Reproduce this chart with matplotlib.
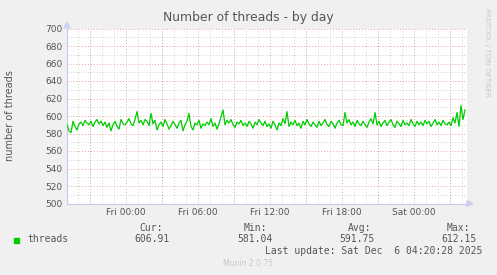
import pandas as pd
import numpy as np
import matplotlib
matplotlib.use("Agg")
import matplotlib.pyplot as plt
import matplotlib.dates as mdates

threads = [
    590, 583, 581, 594, 588, 584, 591, 593, 589, 595, 592, 590, 594, 588, 593, 596, 591, 594, 589, 593,
    587, 592, 583, 590, 594, 588, 585, 596, 591, 590, 593, 597, 591, 589, 596, 605, 592, 595, 590, 596,
    594, 589, 603, 591, 595, 584, 590, 593, 588, 596, 591, 585, 589, 594, 590, 586, 592, 595, 583, 590,
    594, 603, 588, 584, 592, 590, 595, 586, 591, 589, 593, 590, 597, 588, 592, 585, 591, 599, 607, 590,
    595, 592, 596, 590, 587, 593, 591, 595, 589, 592, 588, 594, 591, 586, 593, 590, 596, 592, 589, 594,
    588, 591, 586, 594, 590, 584, 592, 589, 597, 591, 605, 588, 593, 590, 595, 589, 592, 586, 594, 590,
    596, 591, 588, 593, 590, 587, 594, 589, 592, 596, 590, 588, 594, 591, 586, 592, 595, 590, 589, 604,
    592, 596, 590, 593, 588, 595, 591, 589, 594, 590, 587, 593, 597, 591, 604, 590, 594, 588, 592, 595,
    589, 593, 596, 590, 587, 594, 591, 588, 595, 590, 592, 589, 596, 591, 588, 594, 590, 593, 589, 595,
    591, 594, 588, 592, 596, 590, 593, 589, 595, 591, 590, 593, 589, 598, 592, 604, 588, 612, 596, 607,
]
times = pd.date_range("2025-12-04 19:05", periods=len(threads), freq="10min")

stat_names = ["Cur:", "Min:", "Avg:", "Max:"]
stat_values = ["606.91", "581.04", "591.75", "612.15"]
last_update = "Last update: Sat Dec  6 04:20:28 2025"

bg = "#F0F0F0"
txt = "#555555"

fig = plt.figure(figsize=(4.97, 2.75), dpi=100, facecolor=bg)
W, H = 497, 275
ax = fig.add_axes([67 / W, 1 - 203.5 / H, 400 / W, 175 / H], facecolor="white")

ax.plot(times, threads, color="#00CC00", lw=0.9, zorder=3)

ax.set_xlim(pd.Timestamp("2025-12-04 19:05"), pd.Timestamp("2025-12-06 04:25"))
ax.set_ylim(500, 700)

ax.set_yticks(np.arange(500, 701, 20))
ax.set_yticks(np.arange(500, 701, 10), minor=True)
ax.xaxis.set_major_locator(mdates.HourLocator(byhour=[0, 6, 12, 18]))
ax.xaxis.set_major_formatter(mdates.DateFormatter("%a %H:%M"))
ax.xaxis.set_minor_locator(mdates.HourLocator())

# rrdtool style grid: grey minor, pink major (every 3 hours)
ax.grid(which="minor", color="#D0D0D0", ls=(0, (1, 2)), lw=0.7)
ax.grid(which="major", axis="y", color="#E6A3A3", ls=(0, (1, 2)), lw=0.7)
for t in pd.date_range("2025-12-04 21:00", "2025-12-06 03:00", freq="3h"):
    ax.axvline(t, color="#E6A3A3", ls=(0, (1, 2)), lw=0.7, zorder=1)
ax.set_axisbelow(True)

ax.tick_params(which="both", length=0, labelsize=6.5, labelcolor=txt, pad=3)
for s in ["top", "right"]:
    ax.spines[s].set_visible(False)
for s in ["left", "bottom"]:
    ax.spines[s].set_color("#C8C8F0")
    ax.spines[s].set_linewidth(0.8)

# axis arrows
fig.add_artist(plt.Polygon([[64 / W, 1 - 28 / H], [70 / W, 1 - 28 / H], [67 / W, 1 - 22 / H]],
                           closed=True, color="#D0D0F4", transform=fig.transFigure))
fig.add_artist(plt.Line2D([467 / W, 470 / W], [1 - 203.5 / H] * 2, color="#C8C8F0", lw=0.8))
fig.add_artist(plt.Polygon([[467 / W, 1 - 200.5 / H], [467 / W, 1 - 206.5 / H], [473 / W, 1 - 203.5 / H]],
                           closed=True, color="#D0D0F4", transform=fig.transFigure))

fig.text(248 / W, 1 - 18 / H, "Number of threads - by day", ha="center", va="center",
         fontsize=8.9, color=txt)
fig.text(10 / W, 1 - 116 / H, "number of threads", rotation=90, ha="center", va="center",
         fontsize=7, color=txt)
fig.text(487 / W, 1 - 52 / H, "RRDTOOL / TOBI OETIKER", rotation=270, ha="center", va="center",
         fontsize=5, color="#C8C8C8")

mono = "DejaVu Sans Mono"
fig.add_artist(plt.Rectangle((14 / W, 1 - 243 / H), 5 / W, 5 / H, color="#00CC00",
                             transform=fig.transFigure))
fig.text(27 / W, 1 - 239.5 / H, "threads", family=mono, fontsize=7, color=txt, va="center")
head_right = [163, 267, 371, 470]
val_right = [170, 273, 375, 477]
for name, val, hx, vx in zip(stat_names, stat_values, head_right, val_right):
    fig.text(hx / W, 1 - 228 / H, name, family=mono, fontsize=7, color=txt, ha="right", va="center")
    fig.text(vx / W, 1 - 239.5 / H, val, family=mono, fontsize=7, color=txt, ha="right", va="center")
fig.text(482 / W, 1 - 251 / H, last_update, family=mono, fontsize=7, color=txt, ha="right", va="center")
fig.text(248 / W, 1 - 264 / H, "Munin 2.0.75", fontsize=5.5, color="#C8C8C8", ha="center", va="center")

fig.savefig("out.png", dpi=100, facecolor=bg)
